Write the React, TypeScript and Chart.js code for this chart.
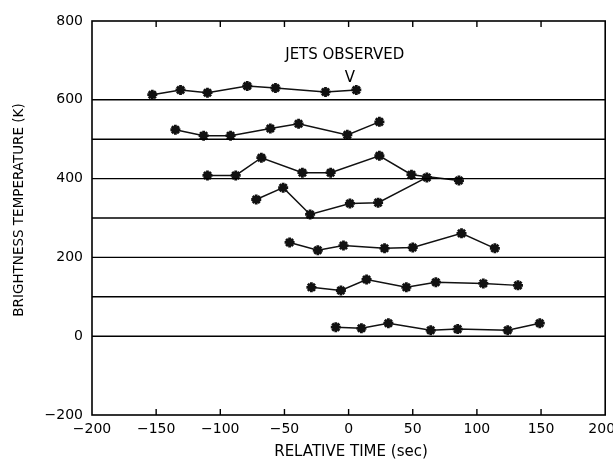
import React, { useEffect, useRef } from "react";
import { Chart, registerables } from "chart.js";

Chart.register(...registerables);

// Reference baselines (K)
const baselines = [0, 100, 200, 300, 400, 500, 600];

// Series (relative time in sec, brightness temperature in K)
const s1x = [-153, -131, -110, -79, -57, -18, 6];
const s1y = [613, 625, 618, 635, 630, 620, 625];

const s2x = [-135, -113, -92, -61, -39, -1, 24];
const s2y = [524, 509, 509, 527, 539, 511, 544];

const s3x = [-110, -88, -68, -36, -14, 24, 49, 86];
const s3y = [408, 408, 453, 415, 415, 458, 410, 395];

const s4x = [-72, -51, -30, 1, 23, 61];
const s4y = [347, 377, 309, 337, 339, 403];

const s5x = [-46, -24, -4, 28, 50, 88, 114];
const s5y = [238, 218, 230, 223, 225, 261, 223];

const s6x = [-29, -6, 14, 45, 68, 105, 132];
const s6y = [124, 116, 144, 124, 137, 134, 129];

const s7x = [-10, 10, 31, 64, 85, 124, 149];
const s7y = [23, 20, 33, 15, 18, 15, 33];

const seriesX = [s1x, s2x, s3x, s4x, s5x, s6x, s7x];
const seriesY = [s1y, s2y, s3y, s4y, s5y, s6y, s7y];

const xTicksInner = [-150, -100, -50, 0, 50, 100, 150];

const annotationText = "JETS OBSERVED";
const annotationPos = { x: -3, y: 714 };
const markerText = "V";
const markerPos = { x: 1, y: 655 };

const xTitle = "RELATIVE TIME (sec)";
const yTitle = "BRIGHTNESS TEMPERATURE (K)";

const FONT = "'DejaVu Sans', sans-serif";

const fmt = (v: number) => (v < 0 ? "\u2212" + Math.abs(v) : String(v));

export default function App() {
  const ref = useRef<HTMLCanvasElement | null>(null);

  useEffect(() => {
    if (!ref.current) return;

    const datasets: any[] = [];
    baselines.forEach((b) => {
      datasets.push({
        data: [
          { x: -200, y: b },
          { x: 200, y: b },
        ],
        showLine: true,
        borderColor: "#000",
        borderWidth: 1.4,
        pointRadius: 0,
      });
    });
    seriesX.forEach((xs, i) => {
      datasets.push({
        data: xs.map((x, j) => ({ x, y: seriesY[i][j] })),
        showLine: true,
        borderColor: "#111",
        backgroundColor: "#111",
        borderWidth: 1.5,
        pointStyle: "star",
        pointRadius: 5,
        pointBorderWidth: 2.8,
        pointBorderColor: "#111",
      });
    });

    const overlay = {
      id: "overlay",
      afterDraw(chart: any) {
        const { ctx, chartArea } = chart;
        const xs = chart.scales.x;
        const ys = chart.scales.y;
        ctx.save();
        ctx.strokeStyle = "#000";
        ctx.lineWidth = 1.6;
        ctx.strokeRect(
          chartArea.left,
          chartArea.top,
          chartArea.right - chartArea.left,
          chartArea.bottom - chartArea.top
        );
        ctx.lineWidth = 1.4;
        xTicksInner.forEach((t) => {
          const px = xs.getPixelForValue(t);
          ctx.beginPath();
          ctx.moveTo(px, chartArea.bottom);
          ctx.lineTo(px, chartArea.bottom - 6);
          ctx.moveTo(px, chartArea.top);
          ctx.lineTo(px, chartArea.top + 6);
          ctx.stroke();
        });
        ctx.fillStyle = "#000";
        ctx.textAlign = "center";
        ctx.textBaseline = "middle";
        ctx.font = `15px ${FONT}`;
        ctx.fillText(
          annotationText,
          xs.getPixelForValue(annotationPos.x),
          ys.getPixelForValue(annotationPos.y)
        );
        ctx.fillText(
          markerText,
          xs.getPixelForValue(markerPos.x),
          ys.getPixelForValue(markerPos.y)
        );
        ctx.fillText(xTitle, 351, 452);
        ctx.font = `13.5px ${FONT}`;
        ctx.translate(19, 210);
        ctx.rotate(-Math.PI / 2);
        ctx.fillText(yTitle, 0, 0);
        ctx.restore();
      },
    };

    const chart = new Chart(ref.current, {
      type: "scatter",
      data: { datasets },
      options: {
        animation: false,
        responsive: true,
        maintainAspectRatio: false,
        layout: { padding: { top: 21, right: 6, left: 0, bottom: 0 } },
        plugins: {
          legend: { display: false },
          tooltip: { enabled: false },
        },
        scales: {
          x: {
            type: "linear",
            min: -200,
            max: 200,
            ticks: {
              stepSize: 50,
              color: "#000",
              font: { family: FONT, size: 14 },
              padding: 6,
              maxRotation: 0,
              callback: (v: any) => (v === 200 ? fmt(v) + "\u2002" : fmt(v)),
            },
            grid: { display: false, drawTicks: false },
            border: { display: false },
            afterFit: (s: any) => {
              s.height = 47;
              s.paddingLeft = 0;
              s.paddingRight = 0;
            },
          },
          y: {
            type: "linear",
            min: -200,
            max: 800,
            ticks: {
              stepSize: 200,
              color: "#000",
              font: { family: FONT, size: 14 },
              padding: 9,
              callback: (v: any) => fmt(v),
            },
            grid: { display: false, drawTicks: false },
            border: { display: false },
            afterFit: (s: any) => {
              s.width = 92;
              s.paddingTop = 0;
              s.paddingBottom = 0;
            },
          },
        },
      },
      plugins: [overlay],
    });

    return () => chart.destroy();
  }, []);

  return (
    <div
      style={{
        position: "fixed",
        left: 0,
        top: 0,
        width: 613,
        height: 462,
        background: "#fff",
      }}
    >
      <canvas ref={ref} />
    </div>
  );
}
